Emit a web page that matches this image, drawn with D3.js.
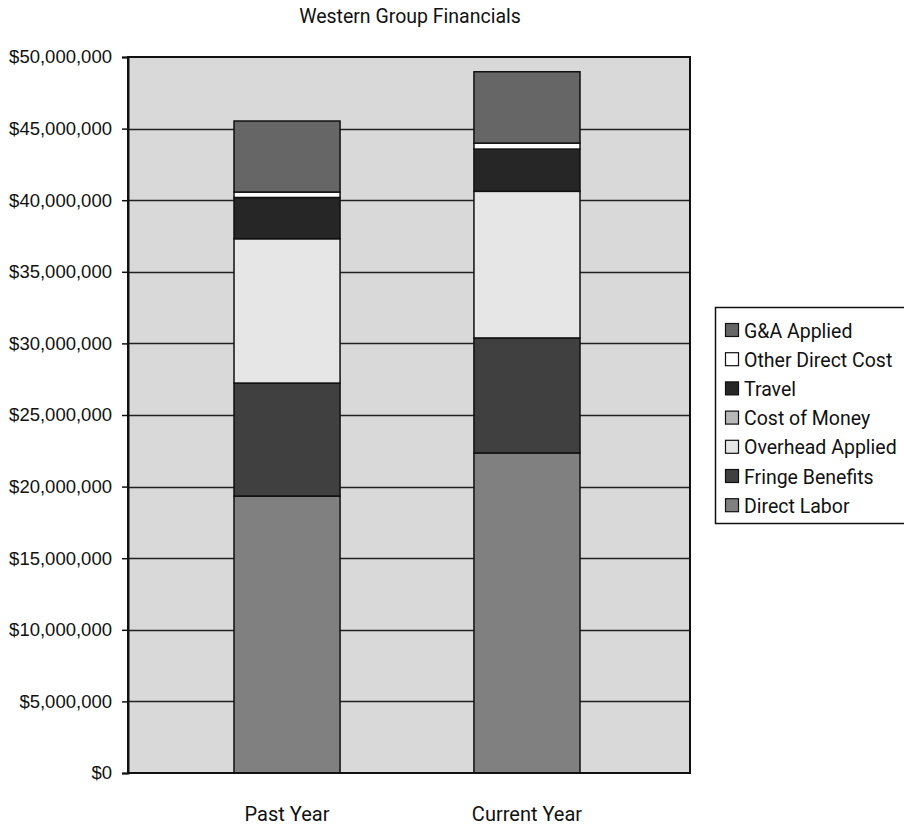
<!DOCTYPE html>
<html>
<head>
<meta charset="utf-8">
<script src="https://cdn.jsdelivr.net/npm/d3@7"></script>
<style>
	body { margin: 0; background: #fff; }
	svg { display: block; }
</style>
</head>
<body>
<div id="chart"></div>
<script>
// values, in dollars
var categories = ["Past Year", "Current Year"];
var directLabor    = [19340000, 22350000];
var fringeBenefits = [7890000, 8030000];
var overheadApplied = [10080000, 10240000];
var costOfMoney    = [0, 0];
var travel         = [2880000, 2950000];
var otherDirect    = [380000, 420000];
var gaApplied      = [4960000, 4980000];

var seriesNames = ["Direct Labor", "Fringe Benefits", "Overhead Applied", "Cost of Money",
	"Travel", "Other Direct Cost", "G&A Applied"];
var seriesValues = [directLabor, fringeBenefits, overheadApplied, costOfMoney,
	travel, otherDirect, gaApplied];
var seriesColors = ["#808080", "#404040", "#e6e6e6", "#b8b8b8", "#262626", "#ffffff", "#666666"];
var yTicks = [0, 5e6, 10e6, 15e6, 20e6, 25e6, 30e6, 35e6, 40e6, 45e6, 50e6];

var W = 904, H = 827,
	plotLeft = 128, plotRight = 690, plotTop = 57, plotBottom = 773,
	labelFont = "Roboto, 'Liberation Sans', sans-serif";

// one row per category for d3.stack
var table = categories.map(function(c, i) {
	var row = {category: c};
	seriesNames.forEach(function(s, j) { row[s] = seriesValues[j][i] });
	return row;
});
var stacked = d3.stack().keys(seriesNames)(table);

var svg = d3.select("#chart").append("svg")
	.attr("width", W)
	.attr("height", H);

var y = d3.scaleLinear().domain([0, 50e6]).range([plotBottom, plotTop]);
var x = d3.scaleBand().domain(categories).range([234, 580])
	.paddingInner(0.558).paddingOuter(0);

// plot background
svg.append("rect")
	.attr("x", plotLeft).attr("y", plotTop)
	.attr("width", plotRight - plotLeft).attr("height", plotBottom - plotTop)
	.attr("fill", "#d9d9d9");

// gridlines
svg.append("g").selectAll("line")
	.data(yTicks.slice(1, -1))
	.enter().append("line")
	.attr("x1", plotLeft).attr("x2", plotRight)
	.attr("y1", function(d) { return Math.round(y(d)) + 0.5 })
	.attr("y2", function(d) { return Math.round(y(d)) + 0.5 })
	.attr("stroke", "#222")
	.attr("stroke-width", 1.6);

// stacked bars
svg.append("g").selectAll("g")
	.data(stacked)
	.enter().append("g")
	.attr("fill", function(d, i) { return seriesColors[i] })
	.selectAll("rect")
	.data(function(d) { return d })
	.enter().append("rect")
	.attr("x", function(d) { return x(d.data.category) })
	.attr("width", x.bandwidth())
	.attr("y", function(d) { return y(d[1]) })
	.attr("height", function(d) { return y(d[0]) - y(d[1]) })
	.attr("stroke", "#111")
	.attr("stroke-width", 1.5);

// plot frame
svg.append("rect")
	.attr("x", plotLeft).attr("y", plotTop)
	.attr("width", plotRight - plotLeft).attr("height", plotBottom - plotTop)
	.attr("fill", "none")
	.attr("stroke", "#111")
	.attr("stroke-width", 2);

// y axis
var yAxis = svg.append("g")
	.attr("transform", "translate(" + plotLeft + ",0)")
	.call(d3.axisLeft(y).tickValues(yTicks).tickFormat(d3.format("$,.0f")).tickSize(6).tickPadding(10));
yAxis.select(".domain").attr("stroke", "#111").attr("stroke-width", 2);
yAxis.selectAll(".tick line").attr("stroke", "#111").attr("stroke-width", 1.5);
yAxis.selectAll("text")
	.attr("font-family", "'Liberation Sans', Arial, sans-serif")
	.attr("font-size", 18.5)
	.attr("fill", "#111");

// category labels
svg.append("g").selectAll("text")
	.data(categories)
	.enter().append("text")
	.attr("x", function(d) { return x(d) + x.bandwidth() / 2 })
	.attr("y", 821)
	.attr("text-anchor", "middle")
	.attr("font-family", labelFont)
	.attr("font-size", 20)
	.attr("fill", "#111")
	.text(function(d) { return d });

// title
svg.append("text")
	.attr("x", 410).attr("y", 23)
	.attr("text-anchor", "middle")
	.attr("font-family", labelFont)
	.attr("font-size", 19.5)
	.attr("fill", "#111")
	.text("Western Group Financials");

// legend, top entry is the top of the stack
var legend = svg.append("g");
legend.append("rect")
	.attr("x", 715.5).attr("y", 307.5)
	.attr("width", 200).attr("height", 216)
	.attr("fill", "#fff")
	.attr("stroke", "#111")
	.attr("stroke-width", 1.5);

var items = seriesNames.map(function(s, i) { return {name: s, color: seriesColors[i]} }).reverse();
var item = legend.selectAll(".item")
	.data(items)
	.enter().append("g")
	.attr("class", "item")
	.attr("transform", function(d, i) { return "translate(725," + (330 + i * 29.2) + ")" });
item.append("rect")
	.attr("x", 0.5).attr("y", -6.5)
	.attr("width", 13).attr("height", 13)
	.attr("fill", function(d) { return d.color })
	.attr("stroke", "#111")
	.attr("stroke-width", 1.2);
item.append("text")
	.attr("x", 19).attr("y", 7.5)
	.attr("font-family", labelFont)
	.attr("font-size", 19.5)
	.attr("fill", "#111")
	.text(function(d) { return d.name });
</script>
</body>
</html>
